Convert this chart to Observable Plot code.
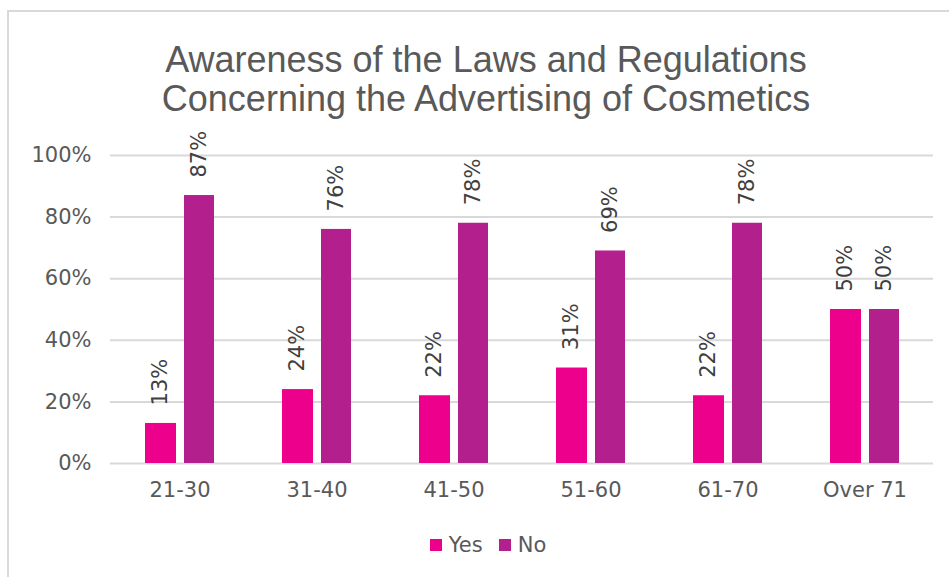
<!DOCTYPE html>
<html>
<head>
<meta charset="utf-8">
<script src="https://cdn.jsdelivr.net/npm/d3@7"></script>
<script src="https://cdn.jsdelivr.net/npm/@observablehq/plot@0.6"></script>
<style>
  html, body { margin: 0; padding: 0; background: #fff; width: 949px; height: 577px; overflow: hidden; }
  #frame { position: absolute; left: 7px; top: 10px; width: 960px; height: 600px; border: 2px solid #d9d9d9; box-sizing: border-box; }
  #title { position: absolute; left: 0; width: 972px; top: 40px; text-align: center; font-family: "Liberation Sans", Arial, sans-serif; font-size: 36px; line-height: 39px; color: #595959; }
  #chart { position: absolute; left: 0; top: 0; }
  #legend { position: absolute; top: 533px; left: 0; width: 976px; display: flex; justify-content: center; gap: 16px; font-family: "DejaVu Sans", sans-serif; font-size: 21px; color: #595959; }
  #legend .item { display: flex; align-items: center; gap: 7px; }
  #legend .sw { width: 12px; height: 12px; display: inline-block; }
</style>
</head>
<body>
<div id="frame"></div>
<div id="title">Awareness of the Laws and Regulations<br>Concerning the Advertising of Cosmetics</div>
<div id="chart"></div>
<div id="legend"></div>
<script>
const categories = ["21-30", "31-40", "41-50", "51-60", "61-70", "Over 71"];
const yesValues = [13, 24, 22, 31, 22, 50];
const noValues = [87, 76, 78, 69, 78, 50];
const seriesNames = ["Yes", "No"];
const seriesColors = ["#EC008C", "#B41F8E"];
const yTicks = [0, 20, 40, 60, 80, 100];

const yesRows = categories.map((c, i) => ({cat: c, series: "Yes", v: yesValues[i]}));
const noRows = categories.map((c, i) => ({cat: c, series: "No", v: noValues[i]}));

const chart = Plot.plot({
  width: 949,
  height: 510,
  marginLeft: 110,
  marginRight: 16,
  marginTop: 155,
  marginBottom: 47,
  style: {fontFamily: "'DejaVu Sans', sans-serif", fontSize: "21px", color: "#595959", background: "transparent", overflow: "visible"},
  x: {domain: categories, padding: 0, label: null, tickSize: 0, tickPadding: 19},
  y: {domain: [0, 100], ticks: yTicks, tickFormat: d => d + "%", label: null, tickSize: 0, tickPadding: 19},
  color: {domain: seriesNames, range: seriesColors},
  marks: [
    Plot.ruleY(yTicks, {stroke: "#d9d9d9", strokeWidth: 2}),
    Plot.barY(yesRows, {x: "cat", y: "v", fill: "series", insetLeft: 34, insetRight: 72}),
    Plot.barY(noRows, {x: "cat", y: "v", fill: "series", insetLeft: 73, insetRight: 34}),
    Plot.text(yesRows, {x: "cat", y: "v", text: d => d.v + "%", rotate: -90, textAnchor: "start", dx: -19.5, dy: -18, fill: "#404040", fontSize: 21}),
    Plot.text(noRows, {x: "cat", y: "v", text: d => d.v + "%", rotate: -90, textAnchor: "start", dx: 19.5, dy: -18, fill: "#404040", fontSize: 21})
  ]
});
document.getElementById("chart").appendChild(chart);

const legend = document.getElementById("legend");
seriesNames.forEach((name, i) => {
  const item = document.createElement("span");
  item.className = "item";
  const sw = document.createElement("span");
  sw.className = "sw";
  sw.style.background = seriesColors[i];
  item.appendChild(sw);
  item.appendChild(document.createTextNode(name));
  legend.appendChild(item);
});
</script>
</body>
</html>
